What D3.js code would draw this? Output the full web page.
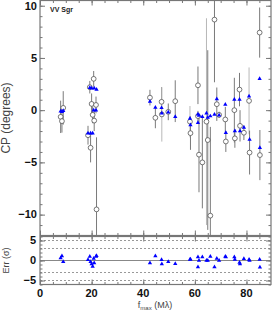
<!DOCTYPE html>
<html><head><meta charset="utf-8">
<script src="https://cdn.jsdelivr.net/npm/d3@7"></script>
<style>
html,body{margin:0;padding:0;background:#fff;}
svg{display:block;font-family:"Liberation Sans",Arial,Helvetica,sans-serif;}
</style></head>
<body><svg id="chart" width="272" height="312"></svg>
<script>
// ---- data ----
const tMax    = [8.0, 8.5, 9.0, 18.6, 19.3, 19.6, 20.0, 20.4, 20.8, 21.0, 21.7, 21.9, 42.6, 44.7, 47.1, 47.2, 49.7, 52.4, 58.1, 58.3, 61.2, 61.2, 61.6, 62.9, 64.5, 65.0, 66.0, 67.6, 68.5, 69.4, 71.8, 72.0, 75.3, 75.5, 77.3, 77.5, 79.0, 81.0, 81.2, 85.1, 85.2];
const cpObs   = [-0.64, -1.05, 0.22, -2.4, 2.2, -3.6, 0.6, -0.45, 3.0, -1.0, 0.5, -9.5, 1.2, -0.73, 0.8, -0.41, -0.16, 0.86, -1.1, -2.2, 2.38, -0.57, -4.26, -5.0, -1.1, -2.86, -10.1, 8.67, 0.57, -0.45, -0.89, -3.0, 0.0, -2.7, 1.97, -1.5, -2.16, 0.89, -4.06, 7.43, -4.3];
const cpErr   = [1.55, 1.1, 1.6, 0.9, 0.6, 1.4, 1.0, 0.8, 0.75, 1.0, 0.8, 6.9, 0.75, 1.0, 1.4, 2.6, 0.8, 2.0, 1.5, 1.6, 1.8, 0.5, 3.6, 4.4, 9.9, 8.6, 8.5, 6.0, 1.6, 0.3, 1.2, 1.0, 3.1, 0.9, 1.6, 1.5, 0.7, 3.2, 2.1, 2.4, 2.4];
const cpModel = [-0.1, -0.15, -0.05, -2.2, 2.15, -2.2, 2.1, -2.2, 0.0, 2.1, 0.0, 1.97, 0.83, 0.26, 0.22, -0.3, -0.2, -0.63, -0.8, -1.43, -0.38, -1.2, -0.5, -0.64, -0.3, -0.7, -0.57, -0.41, 1.08, -0.48, 0.54, -2.16, 1.02, -2.0, 1.02, -2.0, -1.65, 1.33, -2.8, 3.0, -3.6];
const errSigma= [0.6, 1.1, -0.3, 0.2, 1.0, -0.3, -0.9, -1.5, 0.5, -0.6, 1.0, 1.2, -0.6, 1.1, 0.2, -0.9, -0.3, -0.8, 0.26, 0.3, 0.86, -1.6, 0.0, 0.86, 0.0, 0.0, 1.0, -1.6, 0.5, 0.0, 1.0, 0.9, 0.86, 0.26, -0.5, -0.9, 0.44, 0.26, 0.0, 0.26, -1.7];
const secondaryIdx = [15, 18, 24, 37];   // points drawn with the paler error bar
const xTicks = [0, 20, 40, 60, 80];
const cpTicks = [10, 5, 0, -5, -10];
const errTicks = [5, 0, -5];
const errGuides = [5, 3, -3, -5];
const starName = "VV Sgr";

// ---- layout ----
const svg = d3.select("#chart");
const L = 40, R = 271;
const mainTop = 0.5, mainBot = 235.5, resTop = 236.5, resBot = 284.5;

const x = d3.scaleLinear().domain([0, 89.5]).range([L, R]);
const y = d3.scaleLinear().domain([-12, 10.5]).range([mainBot, mainTop]);
const yr = d3.scaleLinear().domain([-6, 6]).range([resBot, resTop]);

const axisCol = "#777";
const pts = tMax.map((t, i) => ({t, obs: cpObs[i], err: cpErr[i], mod: cpModel[i], res: errSigma[i], sec: secondaryIdx.includes(i)}));

// clip paths
const defs = svg.append("defs");
defs.append("clipPath").attr("id", "cm").append("rect").attr("x", L).attr("y", mainTop).attr("width", R - L).attr("height", mainBot - mainTop);
defs.append("clipPath").attr("id", "cr").append("rect").attr("x", L).attr("y", resTop).attr("width", R - L).attr("height", resBot - resTop);

// ---- ticks helper (inward ticks on all sides) ----
function boxTicks(ys, top, bot, yMajor, yMinor) {
  const g = svg.append("g");
  const xMajor = d3.range(0, 90, 20), xMinor = d3.range(0, 90, 5);
  g.append("g").attr("transform", `translate(0,${bot})`)
    .call(d3.axisTop(x).tickValues(xMinor).tickSize(2.5).tickFormat(""));
  g.append("g").attr("transform", `translate(0,${bot})`)
    .call(d3.axisTop(x).tickValues(xMajor).tickSize(5).tickFormat(""));
  g.append("g").attr("transform", `translate(0,${top})`)
    .call(d3.axisBottom(x).tickValues(xMinor).tickSize(2.5).tickFormat(""));
  g.append("g").attr("transform", `translate(0,${top})`)
    .call(d3.axisBottom(x).tickValues(xMajor).tickSize(5).tickFormat(""));
  g.append("g").attr("transform", `translate(${L},0)`)
    .call(d3.axisRight(ys).tickValues(yMinor).tickSize(2.5).tickFormat(""));
  g.append("g").attr("transform", `translate(${L},0)`)
    .call(d3.axisRight(ys).tickValues(yMajor).tickSize(5).tickFormat(""));
  g.append("g").attr("transform", `translate(${R},0)`)
    .call(d3.axisLeft(ys).tickValues(yMinor).tickSize(2.5).tickFormat(""));
  g.append("g").attr("transform", `translate(${R},0)`)
    .call(d3.axisLeft(ys).tickValues(yMajor).tickSize(5).tickFormat(""));
  g.selectAll(".domain").remove();
  g.selectAll("line").attr("stroke", axisCol).attr("stroke-width", 1);
  svg.append("rect").attr("x", L).attr("y", top).attr("width", R - L).attr("height", bot - top)
    .attr("fill", "none").attr("stroke", axisCol).attr("stroke-width", 1.2);
}

// ---- residual panel guides ----
const gRes = svg.append("g").attr("clip-path", "url(#cr)");
gRes.selectAll("line.guide").data(errGuides).join("line")
  .attr("x1", L).attr("x2", R).attr("y1", d => yr(d)).attr("y2", d => yr(d))
  .attr("stroke", "#999").attr("stroke-width", 1).attr("stroke-dasharray", "2,2");
gRes.append("line").attr("x1", L).attr("x2", R).attr("y1", yr(0)).attr("y2", yr(0))
  .attr("stroke", "#888").attr("stroke-width", 1);

// ---- main panel ----
const gMain = svg.append("g").attr("clip-path", "url(#cm)");
gMain.selectAll("line.eb").data(pts).join("line")
  .attr("x1", d => x(d.t)).attr("x2", d => x(d.t))
  .attr("y1", d => y(d.obs + d.err)).attr("y2", d => y(d.obs - d.err))
  .attr("stroke", d => d.sec ? "#b8b8b8" : "#7a7a7a").attr("stroke-width", 1);
gMain.selectAll("circle.obs").data(pts).join("circle")
  .attr("cx", d => x(d.t)).attr("cy", d => y(d.obs)).attr("r", 2.4)
  .attr("fill", "#fff").attr("stroke", "#555").attr("stroke-width", 0.8);
const tri = d3.symbol().type(d3.symbolTriangle).size(8);
gMain.selectAll("path.mod").data(pts).join("path")
  .attr("d", tri).attr("transform", d => `translate(${x(d.t)},${y(d.mod)})`)
  .attr("fill", "#0000ff");

gRes.selectAll("path.res").data(pts).join("path")
  .attr("d", tri).attr("transform", d => `translate(${x(d.t)},${yr(d.res)})`)
  .attr("fill", "#0000ff");

boxTicks(y, mainTop, mainBot, cpTicks, d3.range(-12, 11, 1));
boxTicks(yr, resTop, resBot, errTicks, d3.range(-6, 7, 1));

// ---- labels ----
const lab = svg.append("g").attr("font-weight", "bold").attr("font-size", 11).attr("fill", "#111");
lab.selectAll("text.yl").data(cpTicks).join("text")
  .attr("x", 37).attr("y", d => y(d)).attr("dy", "0.35em").attr("text-anchor", "end")
  .text(d => d < 0 ? "\u2212" + Math.abs(d) : d);
lab.selectAll("text.yr").data(errTicks).join("text")
  .attr("x", 36).attr("y", d => yr(d)).attr("dy", "0.35em").attr("text-anchor", "end")
  .text(d => d < 0 ? "\u2212" + Math.abs(d) : d);
lab.selectAll("text.xl").data(xTicks).join("text")
  .attr("x", d => x(d)).attr("y", 297).attr("text-anchor", "middle")
  .text(d => d);

svg.append("text").attr("transform", `translate(10,${(mainTop + mainBot) / 2}) rotate(-90)`)
  .attr("text-anchor", "middle").attr("font-size", 12).attr("fill", "#444").text("CP (degrees)");
svg.append("text").attr("transform", `translate(9,${(resTop + resBot) / 2}) rotate(-90)`)
  .attr("text-anchor", "middle").attr("font-size", 9).attr("fill", "#444").text("Err (\u03c3)");
const xt = svg.append("text").attr("x", 155).attr("y", 308).attr("text-anchor", "middle")
  .attr("font-size", 9).attr("fill", "#444");
xt.append("tspan").text("f");
xt.append("tspan").attr("font-size", 6).attr("dy", 2).text("max");
xt.append("tspan").attr("dy", -2).text(" (M\u03bb)");
svg.append("text").attr("x", 50).attr("y", 12).attr("font-size", 7).attr("font-weight", "bold")
  .attr("fill", "#222").text(starName);
</script></body></html>
